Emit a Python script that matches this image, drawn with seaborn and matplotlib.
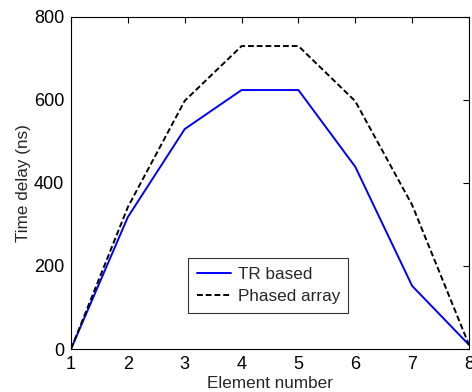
import matplotlib
matplotlib.use("Agg")
import matplotlib.pyplot as plt
import seaborn as sns
import pandas as pd

elements = [1, 2, 3, 4, 5, 6, 7, 8]
tr_based = [0, 318, 530, 624, 624, 439, 152, 10]
phased_array = [0, 342, 598, 730, 730, 597, 347, 10]

sns.set_theme(style="white")
plt.rcParams['font.family'] = ['Liberation Sans', 'DejaVu Sans']

df = pd.concat([
    pd.DataFrame({"Element number": elements, "Time delay (ns)": tr_based, "series": "TR based"}),
    pd.DataFrame({"Element number": elements, "Time delay (ns)": phased_array, "series": "Phased array"}),
])

fig = plt.figure(figsize=(4.72, 3.92), dpi=100)
ax = fig.add_axes([71/472, 1 - 349/392, (469-71)/472, (349-17)/392])
sns.lineplot(data=df, x="Element number", y="Time delay (ns)", hue="series", style="series",
             palette={"TR based": "#0000ff", "Phased array": "black"},
             dashes={"TR based": "", "Phased array": (3, 1.5)},
             linewidth=1.4, ax=ax)
ax.set_xlim(1, 8)
ax.set_ylim(0, 800)
ax.set_xticks(elements)
ax.set_yticks([0, 200, 400, 600, 800])
ax.tick_params(direction="in", top=True, right=True, labelsize=13, length=4, width=0.8, colors="black", pad=5)
for s in ax.spines.values():
    s.set_color("black")
    s.set_linewidth(0.8)
ax.set_xlabel("Element number", fontsize=12.3, labelpad=2)
ax.set_ylabel("Time delay (ns)", fontsize=12.3, labelpad=2)
leg = ax.legend(loc="lower left", bbox_to_anchor=((188-71)/398, (349-313)/332), fontsize=12.3,
                frameon=True, fancybox=False, edgecolor="black", handlelength=2.0,
                handletextpad=0.4, borderpad=0.5, labelspacing=0.45, borderaxespad=0)
leg.get_frame().set_linewidth(0.8)
fig.savefig("out.png", dpi=100)
